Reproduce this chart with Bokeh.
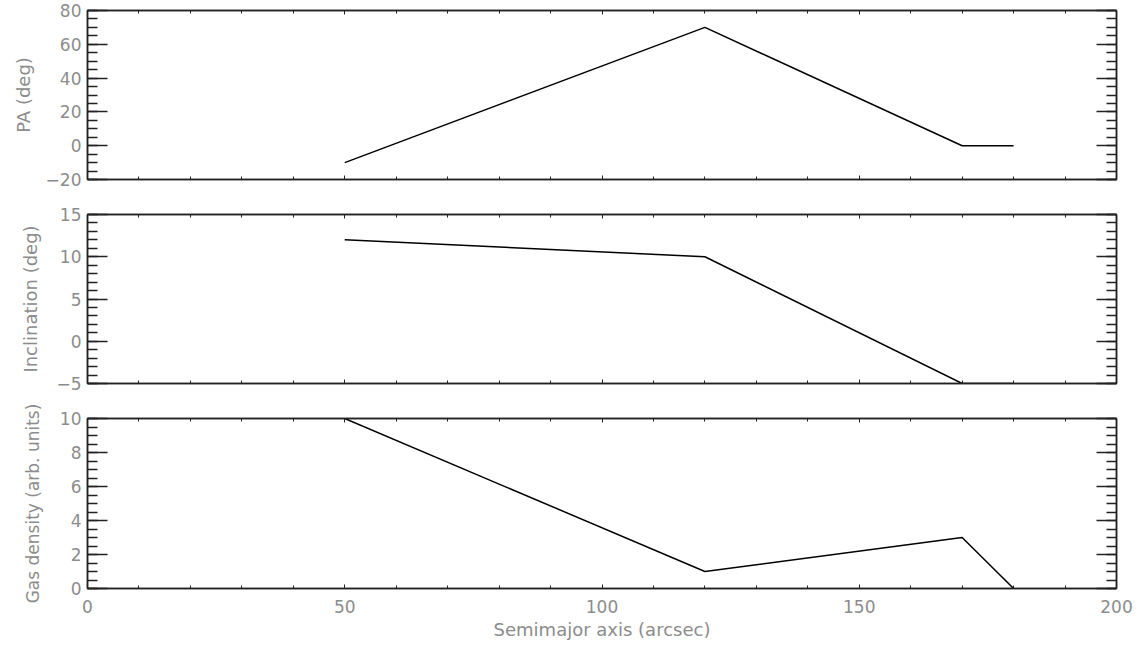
from bokeh.plotting import figure
from bokeh.layouts import column
from bokeh.models import Range1d, LinearAxis, SingleIntervalTicker, CustomJSTickFormatter
from bokeh.embed import file_html
from bokeh.resources import INLINE

# Radial profile of the warp model
radius = [50, 120, 170, 180]
pa_deg = [-10, 70, 0, 0]
incl_deg = [12, 10, -5, -5]
gas_density = [10, 1, 3, 0]

x_ticks_major = 50
x_ticks_minor = 5

panels = [
    dict(label="PA (deg)", y=pa_deg, yr=(-20, 80), step=20, minor=4,
         h=196, top=10, bottom=17, standoff=9, tsize="18px"),
    dict(label="Inclination (deg)", y=incl_deg, yr=(-5, 15), step=5, minor=5,
         h=204, top=18, bottom=17, standoff=12, tsize="18px"),
    dict(label="Gas density (arb. units)", y=gas_density, yr=(0, 10), step=2, minor=4,
         h=249, top=18, bottom=61, standoff=14, tsize="17px"),
]

FONT = "DejaVu Sans"
LABEL_COLOR = "#8c8c8c"
FRAME_COLOR = "#222222"
TICK_SIZE = "17px"
TITLE_SIZE = "18px"

minus_fmt = CustomJSTickFormatter(code="""
    return tick < 0 ? '\u2212' + Math.abs(tick) : tick.toString();
""")
blank_fmt = CustomJSTickFormatter(code="return '';")


def style_common(ax):
    ax.major_tick_line_color = FRAME_COLOR
    ax.minor_tick_line_color = FRAME_COLOR
    ax.axis_line_color = FRAME_COLOR
    ax.axis_line_width = 1.5
    ax.major_label_text_font = FONT
    ax.major_label_text_font_size = TICK_SIZE
    ax.major_label_text_color = LABEL_COLOR
    ax.axis_label_text_font = FONT
    ax.axis_label_text_font_size = TITLE_SIZE
    ax.axis_label_text_font_style = "normal"
    ax.axis_label_text_color = LABEL_COLOR


def style_y(ax, labels=True):
    style_common(ax)
    ax.major_tick_in = 20
    ax.major_tick_out = 0
    ax.minor_tick_in = 10
    ax.minor_tick_out = 0
    ax.major_tick_line_width = 1.5
    ax.minor_tick_line_width = 1.5
    if not labels:
        ax.formatter = blank_fmt
        ax.major_label_standoff = 0


def style_x(ax, labels=False):
    style_common(ax)
    ax.major_tick_in = 4
    ax.major_tick_out = 0
    ax.minor_tick_in = 3
    ax.minor_tick_out = 0
    if labels:
        ax.major_label_standoff = 11
        ax.axis_label_standoff = 3
    else:
        ax.formatter = blank_fmt
        ax.major_label_standoff = 0


figs = []
for i, pn in enumerate(panels):
    last = i == len(panels) - 1
    p = figure(width=1139, height=pn["h"], output_backend="svg", toolbar_location=None,
               x_range=Range1d(0, 200), y_range=Range1d(*pn["yr"]),
               min_border_left=87, min_border_right=23,
               min_border_top=pn["top"], min_border_bottom=pn["bottom"])
    p.grid.visible = False
    p.outline_line_color = FRAME_COLOR
    p.outline_line_width = 1.5
    p.background_fill_color = "white"
    p.border_fill_color = "white"

    yt = SingleIntervalTicker(interval=pn["step"], num_minor_ticks=pn["minor"])
    xt = SingleIntervalTicker(interval=x_ticks_major, num_minor_ticks=x_ticks_minor)

    ly = p.yaxis[0]
    ly.ticker = yt
    ly.formatter = minus_fmt
    ly.axis_label = pn["label"]
    ly.major_label_standoff = 6
    ly.axis_label_standoff = pn["standoff"]
    style_y(ly)
    ly.axis_label_text_font_size = pn["tsize"]

    ry = LinearAxis(ticker=yt)
    style_y(ry, labels=False)
    p.add_layout(ry, "right")

    bx = p.xaxis[0]
    bx.ticker = xt
    if last:
        bx.axis_label = "Semimajor axis (arcsec)"
    style_x(bx, labels=last)

    tx = LinearAxis(ticker=xt)
    style_x(tx, labels=False)
    p.add_layout(tx, "above")

    p.line(radius, pn["y"], line_color="black", line_width=1.5)
    figs.append(p)

layout = column(*figs, spacing=0)
open("out.html", "w").write(file_html(layout, INLINE))
